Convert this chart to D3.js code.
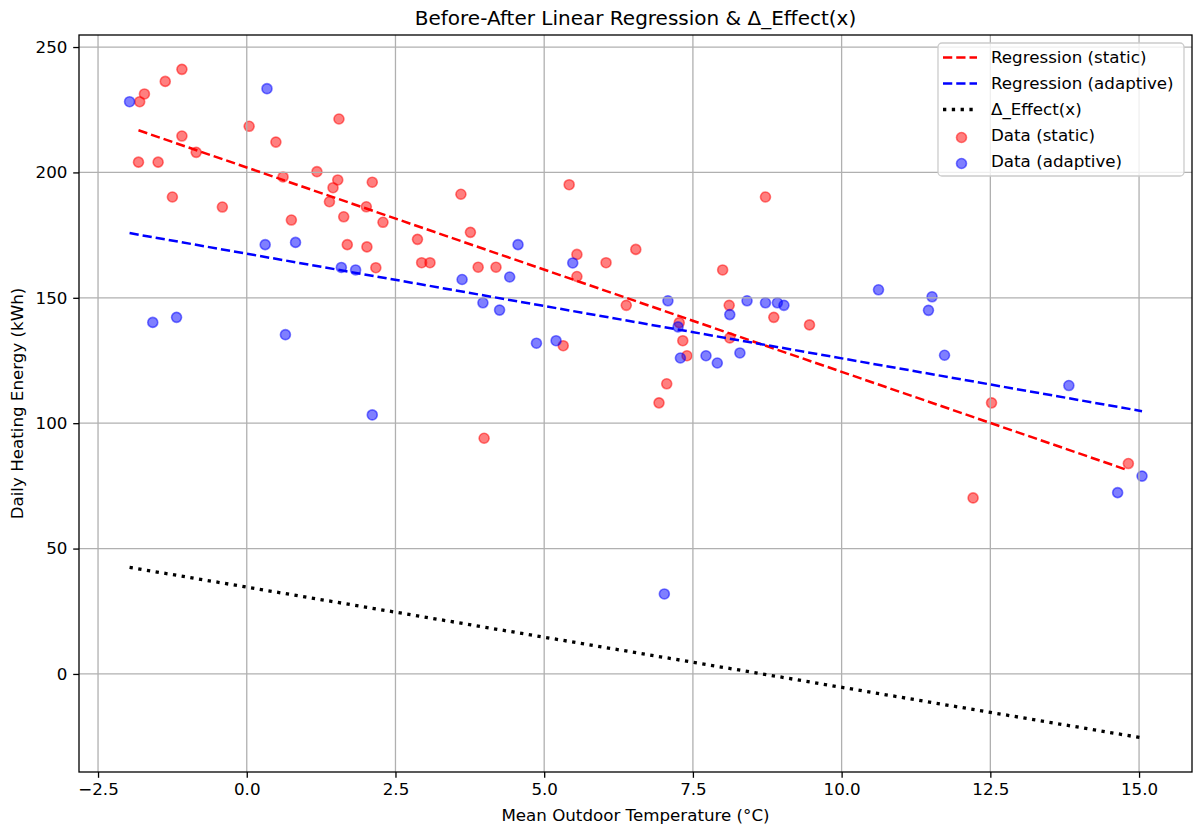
<!DOCTYPE html>
<html>
<head>
<meta charset="utf-8">
<script src="https://cdn.jsdelivr.net/npm/d3@7"></script>
<style>
    body { margin: 0; background: #fff; }
    svg { display: block; font-family: "DejaVu Sans", sans-serif; }
</style>
</head>
<body>
<svg id="svg" width="1195" height="828"></svg>
<script>
// scatter data
var staticTemp = [-1.80, -1.72, -1.37, -1.09, 0.04, 1.55, -1.09, 0.49, -0.85, -1.82,
    -1.49, 0.61, 1.18, 1.53, 1.45, 2.11, -1.25, -0.41, 1.39, 2.01,
    0.75, 1.63, 2.29, 1.69, 2.02, 2.17, 3.60, 5.42, 8.72, 3.76,
    2.87, 5.55, 6.04, 6.54, 2.94, 3.08, 3.89, 4.19, 8.00, 5.55,
    6.38, 8.11, 8.86, 7.27, 7.33, 8.12, 5.32, 7.40, 7.06, 6.93,
    3.99, 9.46, 12.52, 14.82, 12.21];
var staticEnergy = [228.2, 231.3, 236.3, 241.1, 218.4, 221.3, 214.5, 212.1, 208.0, 204.1,
    204.1, 198.2, 200.3, 197.0, 193.9, 196.1, 190.2, 186.2, 188.3, 186.3,
    181.0, 182.3, 180.1, 171.2, 170.3, 162.0, 191.3, 195.1, 190.2, 176.1,
    173.3, 167.3, 164.0, 169.3, 164.0, 164.0, 162.2, 162.2, 161.1, 158.5,
    147.0, 147.0, 142.2, 140.1, 132.9, 134.0, 130.9, 126.9, 115.7, 108.1,
    94.0, 139.2, 108.1, 83.9, 70.2];

var adaptiveTemp = [-1.97, 0.34, 0.31, 0.82, 1.59, 1.83, -1.58, -1.18, 0.65, 2.11,
    4.56, 5.48, 3.62, 4.42, 3.97, 4.25, 7.08, 8.41, 8.72, 8.92,
    9.03, 8.12, 7.25, 4.87, 5.20, 7.29, 7.72, 7.91, 8.29, 10.62,
    11.52, 11.46, 11.73, 13.82, 15.05, 14.64, 7.02];
var adaptiveEnergy = [228.2, 233.4, 171.2, 172.1, 162.1, 161.1, 140.2, 142.2, 135.3, 103.3,
    171.2, 163.9, 157.3, 158.3, 148.0, 145.1, 148.8, 148.8, 148.0, 148.0,
    147.0, 143.3, 138.4, 131.9, 132.9, 126.0, 126.9, 124.0, 128.0, 153.2,
    150.4, 145.0, 127.1, 115.0, 78.9, 72.3, 31.9];

// fitted lines (end points)
var staticFitX = [-1.82, 14.82];
var staticFitY = [216.8, 81.2];
var adaptiveFitX = [-1.97, 15.05];
var adaptiveFitY = [175.8, 104.8];
var deltaX = [-1.97, 15.05];
var deltaY = [42.5, -25.5];

var xTicks = [-2.5, 0, 2.5, 5, 7.5, 10, 12.5, 15];
var yTicks = [0, 50, 100, 150, 200, 250];

var legendLabels = ["Regression (static)", "Regression (adaptive)", "\u0394_Effect(x)", "Data (static)", "Data (adaptive)"];

function zip(xs, ys) {
    return xs.map(function (x, i) { return {x: x, y: ys[i]}; });
}

var svg = d3.select("svg"),
        margin = {top: 35, right: 3, bottom: 56, left: 79},
        width = 1195 - margin.left - margin.right,
        height = 828 - margin.top - margin.bottom,
        g = svg.append("g").attr("transform", "translate(" + margin.left + "," + margin.top + ")");

var x = d3.scaleLinear().domain([-2.82, 15.89]).range([0, width]);
var y = d3.scaleLinear().domain([-39.1, 254.8]).range([height, 0]);

var redC = "#ff0000", blueC = "#0000ff";

// scatter (drawn first, grid sits above it like matplotlib)
function dots(data, color) {
    g.append("g").selectAll("circle")
            .data(data)
            .enter().append("circle")
            .attr("cx", function (d) { return x(d.x); })
            .attr("cy", function (d) { return y(d.y); })
            .attr("r", 5)
            .attr("fill", color)
            .attr("fill-opacity", 0.5)
            .attr("stroke", color)
            .attr("stroke-opacity", 0.5)
            .attr("stroke-width", 1.6);
}
dots(zip(staticTemp, staticEnergy), redC);
dots(zip(adaptiveTemp, adaptiveEnergy), blueC);

// grid
g.append("g")
        .selectAll("line.gx")
        .data(xTicks)
        .enter().append("line")
        .attr("x1", function (d) { return x(d); })
        .attr("x2", function (d) { return x(d); })
        .attr("y1", 0).attr("y2", height)
        .attr("stroke", "#b0b0b0").attr("stroke-width", 1.3);
g.append("g")
        .selectAll("line.gy")
        .data(yTicks)
        .enter().append("line")
        .attr("y1", function (d) { return y(d); })
        .attr("y2", function (d) { return y(d); })
        .attr("x1", 0).attr("x2", width)
        .attr("stroke", "#b0b0b0").attr("stroke-width", 1.3);

var line = d3.line()
        .x(function (d) { return x(d.x); })
        .y(function (d) { return y(d.y); });

g.append("path").datum(zip(staticFitX, staticFitY))
        .attr("fill", "none").attr("stroke", redC)
        .attr("stroke-width", 2.5).attr("stroke-dasharray", "9.25,4")
        .attr("d", line);
g.append("path").datum(zip(adaptiveFitX, adaptiveFitY))
        .attr("fill", "none").attr("stroke", blueC)
        .attr("stroke-width", 2.5).attr("stroke-dasharray", "9.25,4")
        .attr("d", line);
g.append("path").datum(zip(deltaX, deltaY))
        .attr("fill", "none").attr("stroke", "#000")
        .attr("stroke-width", 3.3).attr("stroke-dasharray", "3.3,5.5")
        .attr("d", line);

// axes
var fmtX = d3.format(".1f");
var xAxis = g.append("g")
        .attr("transform", "translate(0," + height + ")")
        .call(d3.axisBottom(x).tickValues(xTicks).tickFormat(fmtX).tickSizeInner(5.8).tickSizeOuter(0).tickPadding(5.8));
var yAxis = g.append("g")
        .call(d3.axisLeft(y).tickValues(yTicks).tickFormat(d3.format("d")).tickSizeInner(5.8).tickSizeOuter(0).tickPadding(5.8));
[xAxis, yAxis].forEach(function (a) {
    a.select(".domain").remove();
    a.selectAll(".tick line").attr("stroke", "#000").attr("stroke-width", 1.3);
    a.selectAll(".tick text").attr("fill", "#000").style("font-size", "16.7px").style("font-family", "DejaVu Sans");
});

// frame
g.append("rect")
        .attr("width", width).attr("height", height)
        .attr("fill", "none").attr("stroke", "#000").attr("stroke-width", 1.3);

// titles
svg.append("text")
        .attr("x", margin.left + width / 2).attr("y", 25)
        .attr("text-anchor", "middle")
        .style("font-size", "20px")
        .text("Before-After Linear Regression & \u0394_Effect(x)");
svg.append("text")
        .attr("x", margin.left + width / 2).attr("y", 821)
        .attr("text-anchor", "middle")
        .style("font-size", "16.7px")
        .text("Mean Outdoor Temperature (\u00b0C)");
svg.append("text")
        .attr("transform", "translate(23," + (margin.top + height / 2) + ") rotate(-90)")
        .attr("text-anchor", "middle")
        .style("font-size", "16.7px")
        .text("Daily Heating Energy (kWh)");

// legend
var leg = svg.append("g").attr("transform", "translate(938,43)");
leg.append("rect")
        .attr("width", 246).attr("height", 133)
        .attr("rx", 4).attr("ry", 4)
        .attr("fill", "#fff").attr("fill-opacity", 0.8)
        .attr("stroke", "#cccccc").attr("stroke-width", 1.3);

var legStyle = [
    {type: "line", color: redC, dash: "9.25,4", w: 2.5},
    {type: "line", color: blueC, dash: "9.25,4", w: 2.5},
    {type: "line", color: "#000", dash: "3.3,5.5", w: 3.3},
    {type: "dot", color: redC},
    {type: "dot", color: blueC}
];

var item = leg.selectAll(".item")
        .data(legendLabels)
        .enter().append("g")
        .attr("transform", function (d, i) { return "translate(0," + (14.5 + i * 26) + ")"; });

item.each(function (d, i) {
    var s = legStyle[i], el = d3.select(this);
    if (s.type === "line") {
        el.append("line")
                .attr("x1", 5).attr("x2", 39).attr("y1", 0).attr("y2", 0)
                .attr("stroke", s.color).attr("stroke-width", s.w)
                .attr("stroke-dasharray", s.dash);
    } else {
        el.append("circle")
                .attr("cx", 23.5).attr("cy", 2).attr("r", 5)
                .attr("fill", s.color).attr("fill-opacity", 0.5)
                .attr("stroke", s.color).attr("stroke-opacity", 0.5).attr("stroke-width", 1.6);
    }
    el.append("text")
            .attr("x", 53).attr("y", 0).attr("dy", "0.35em")
            .style("font-size", "16.7px")
            .text(d);
});
</script>
</body>
</html>
